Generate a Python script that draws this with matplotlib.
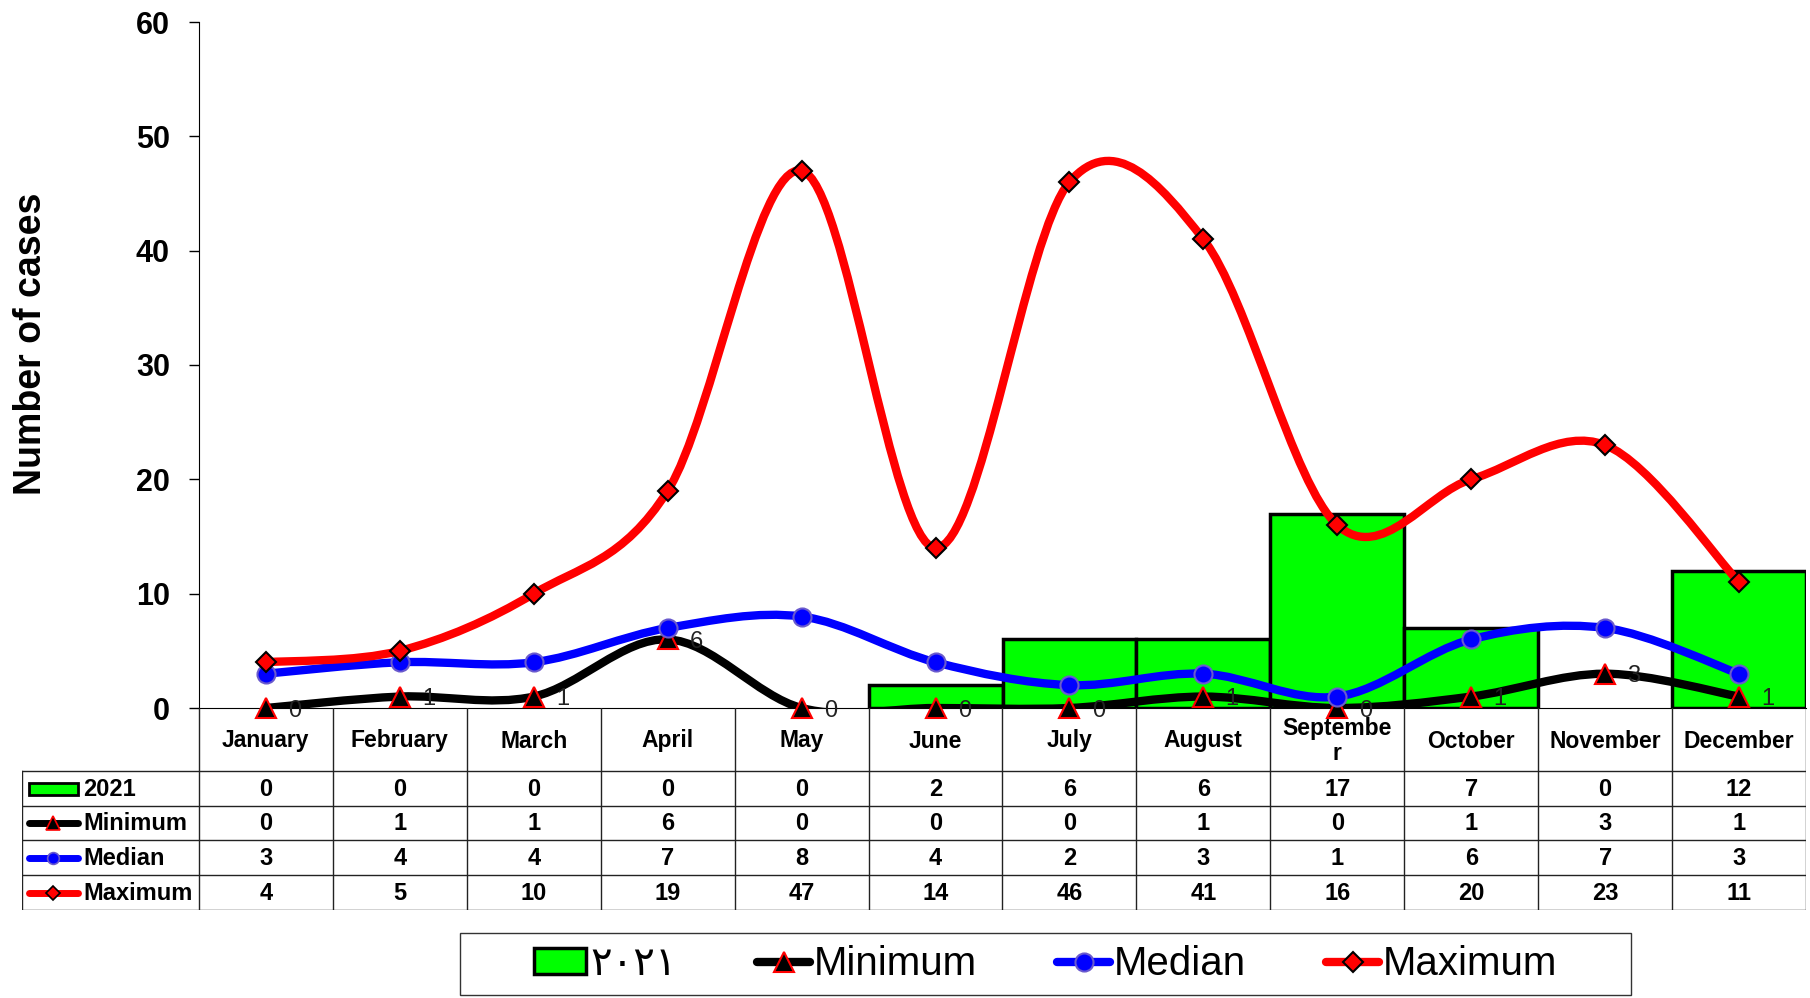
import numpy as np
import matplotlib
matplotlib.use("Agg")
import matplotlib.pyplot as plt
from matplotlib.path import Path
from matplotlib.patches import PathPatch, Rectangle
from matplotlib.lines import Line2D

plt.rcParams['font.family'] = ['Liberation Sans', 'DejaVu Sans']

months = ["January", "February", "March", "April", "May", "June", "July",
          "August", "Septembe\nr", "October", "November", "December"]
cases_2021 = [0, 0, 0, 0, 0, 2, 6, 6, 17, 7, 0, 12]
minimum = [0, 1, 1, 6, 0, 0, 0, 1, 0, 1, 3, 1]
median = [3, 4, 4, 7, 8, 4, 2, 3, 1, 6, 7, 3]
maximum = [4, 5, 10, 19, 47, 14, 46, 41, 16, 20, 23, 11]
bar_label = "٢٠٢١"
row_labels = ["2021", "Minimum", "Median", "Maximum"]

GREEN = "#00FF00"
BLUE = "#0000FF"
RED = "#FF0000"

W, H = 1810, 998


def smooth_path(x, y):
    # excel style smoothed line: catmull-rom segments as cubic beziers
    pts = np.column_stack([np.asarray(x, float), np.asarray(y, float)])
    n = len(pts)
    verts = [pts[0]]
    codes = [Path.MOVETO]
    for i in range(n - 1):
        p0 = pts[max(i - 1, 0)]
        p1 = pts[i]
        p2 = pts[i + 1]
        p3 = pts[min(i + 2, n - 1)]
        verts += [p1 + (p2 - p0) / 6, p2 - (p3 - p1) / 6, p2]
        codes += [Path.CURVE4] * 3
    return Path(verts, codes)


fig = plt.figure(figsize=(W / 100, H / 100), dpi=100)
ax = fig.add_axes([199 / W, 1 - 708 / H, 1607 / W, 686 / H])

x = np.arange(len(months))
bars = ax.bar(x, cases_2021, width=1.0, color=GREEN, edgecolor="black",
              linewidth=2.5, zorder=2)
for b, v in zip(bars, cases_2021):
    if v == 0:
        b.set_visible(False)

# line series: (values, line colour, marker, face, edge, size)
series = [
    (minimum, "black", "^", "black", RED, 15),
    (median, BLUE, "o", BLUE, "#6A5ACD", 13),
    (maximum, RED, "D", RED, "black", 10.5),
]
handles = [Rectangle((0, 0), 1, 1, fc=GREEN, ec="black", lw=2.5)]
for k, (vals, col, mk, fc, ec, ms) in enumerate(series):
    z = 3 + k
    ax.add_patch(PathPatch(smooth_path(x, vals), fill=False, ec=col, lw=6,
                           capstyle="round", joinstyle="round", zorder=z))
    ax.plot(x, vals, ls="none", marker=mk, mfc=fc, mec=ec, mew=1.5, ms=ms,
            zorder=z + 0.5, clip_on=False)
    handles.append(Line2D([], [], color=col, lw=6, marker=mk, mfc=fc, mec=ec,
                          mew=1.5, ms=ms, solid_capstyle="round"))

for i, v in enumerate(minimum):
    ax.annotate(str(v), (i, v), xytext=(16, -2), textcoords="offset points",
                fontsize=17, ha="left", va="center", color="#222222", zorder=10)

ax.set_xlim(-0.5, 11.5)
ax.set_ylim(0, 60)
ax.set_xticks([])
ax.set_yticks(range(0, 61, 10))
ax.spines["top"].set_visible(False)
ax.spines["right"].set_visible(False)
ax.tick_params(axis="y", direction="out", length=7, width=1, labelsize=22, pad=14)
for t in ax.get_yticklabels():
    t.set_fontweight("bold")

fig.text(31 / W, 1 - 344 / H, "Number of cases", rotation=90, ha="center",
         va="center", fontsize=27, fontweight="bold")

# data table under the chart
tax = fig.add_axes([22 / W, 1 - 910 / H, 1784 / W, 202 / H])
xl = -0.5 - 177 / 134
tax.set_xlim(xl, 11.5)
tax.set_ylim(202, 0)
tax.axis("off")
row_edges = [0, 63, 98, 132, 167, 202]
lc = "#222222"
for y in row_edges[1:]:
    tax.plot([xl, 11.5], [y, y], color=lc, lw=1)
for xv in np.arange(-0.5, 12, 1):
    tax.plot([xv, xv], [0, 202], color=lc, lw=1)
tax.plot([xl, xl], [63, 202], color=lc, lw=1)

for i, m in enumerate(months):
    tax.text(i, 33, m, ha="center", va="center", fontsize=16.5,
             fontweight="bold", linespacing=1.15)

rows = [cases_2021, minimum, median, maximum]
for r, vals in enumerate(rows):
    yc = (row_edges[r + 1] + row_edges[r + 2]) / 2
    for i, v in enumerate(vals):
        tax.text(i, yc + 1, str(v), ha="center", va="center", fontsize=17,
                 fontweight="bold")
    tax.text(xl + 61 / 134, yc + 1, row_labels[r], ha="left", va="center",
             fontsize=17, fontweight="bold")
    xs0, xs1 = xl + 7 / 134, xl + 56 / 134
    if r == 0:
        tax.add_patch(Rectangle((xs0, yc - 6), xs1 - xs0, 12, fc=GREEN,
                                ec="black", lw=2))
    else:
        vals_s, col, mk, fc, ec, ms = series[r - 1]
        tax.plot([xs0, xs1], [yc, yc], color=col, lw=5, solid_capstyle="round")
        tax.plot([(xs0 + xs1) / 2], [yc], ls="none", marker=mk, mfc=fc, mec=ec,
                 mew=1.2, ms=ms * 0.65)

# legend with a square frame drawn separately
fig.legend(handles, [bar_label, "Minimum", "Median", "Maximum"], loc="center",
           bbox_to_anchor=((460 + 1631) / 2 / W, 1 - 964 / H), ncol=4,
           frameon=False, fontsize=29, handlelength=1.3, handletextpad=0.1,
           columnspacing=2.0, handleheight=0.6)
fig.add_artist(Rectangle((460 / W, 1 - 995 / H), 1171 / W, 62 / H,
                         transform=fig.transFigure, fill=False, ec="#333333",
                         lw=1))

fig.savefig("out.png", dpi=100)
